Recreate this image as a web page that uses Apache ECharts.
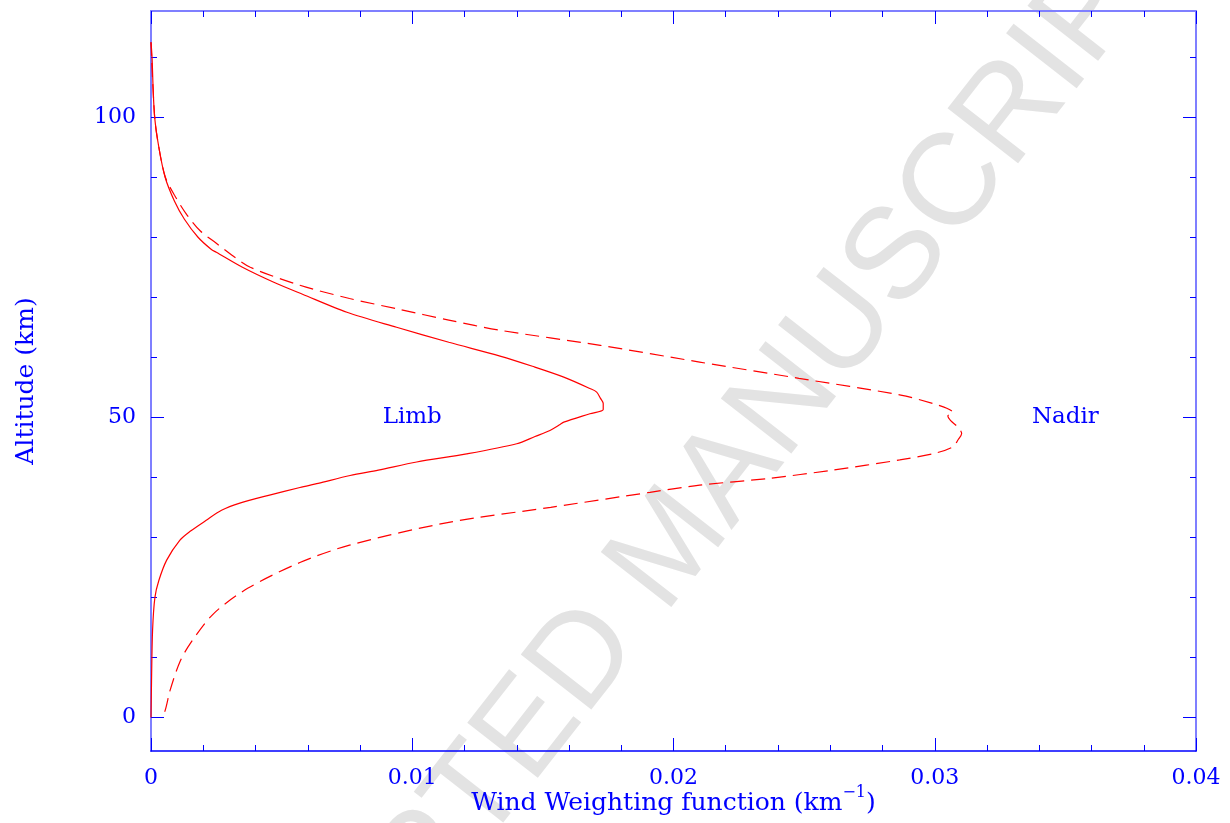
<!DOCTYPE html>
<html>
<head>
<meta charset="utf-8">
<script src="https://cdn.jsdelivr.net/npm/echarts@6/dist/echarts.min.js"></script>
<style>
  html, body { margin: 0; padding: 0; background: #ffffff; }
  #chart { width: 1230px; height: 823px; }
</style>
</head>
<body>
<div id="chart"></div>
<script>
// Limb viewing geometry: altitude (km) and wind weighting function (km^-1)
const limbAlt = [112.5, 110, 105, 100, 95, 90, 86, 83, 80, 78, 77.5, 75, 72.5, 70.5, 67.5, 65, 62.5,
  60.2, 58.5, 56.7, 54.8, 54.2, 53.2, 52.3, 51.3, 50.6, 49.2, 48.8, 47.8, 46.8, 45.6, 43.9, 42.55,
  41.2, 40.3, 39, 38.3, 37, 35.7, 34.5, 32.8, 31, 29.5, 26.2, 22.8, 20, 14.5, 6, 0];
const limbVal = [0, 0.00004, 0.00008, 0.00014, 0.0003, 0.00054, 0.0009, 0.00128, 0.0018, 0.0023, 0.0025,
  0.0035, 0.0047, 0.0058, 0.0075, 0.0094, 0.0114,
  0.01336, 0.0146, 0.0158, 0.0168, 0.01706, 0.0172, 0.01731, 0.01731, 0.0168, 0.0158, 0.01566, 0.01527,
  0.0147, 0.0140, 0.01208, 0.01017,
  0.0087, 0.00762, 0.0064, 0.0057, 0.0045, 0.0034, 0.0027, 0.0021, 0.0015, 0.0011, 0.0006, 0.0003,
  0.00015, 0.00006, 0.00002, 0];

// Nadir viewing geometry
const nadirAlt = [112.5, 100, 95, 90, 87, 83.7, 81, 79, 77, 75, 72, 69.8, 68, 66.2, 64.5, 62, 59.2,
  56.5, 53.7, 52.2, 51.5, 50.8, 50.2, 49.5, 48.3, 47.3, 46.3, 45.1, 44, 42.9, 41.2, 39.8, 38.7, 37.5,
  35, 32.5, 28.7, 25.8, 21.5, 17.3, 12.3, 9.2, 4.5, 1, 0.5];
const nadirVal = [0, 0.00014, 0.0003, 0.00055, 0.0009, 0.00138, 0.0019, 0.0025, 0.0031, 0.0038, 0.0057,
  0.0076, 0.0095, 0.0114, 0.01336, 0.0172, 0.0210,
  0.0248, 0.0287, 0.0300, 0.03046, 0.0307, 0.0305, 0.0306, 0.0309, 0.03103, 0.0309, 0.0307, 0.0300,
  0.02866, 0.0261, 0.0236, 0.0210, 0.0191,
  0.0153, 0.0114, 0.0076, 0.0057, 0.0037, 0.0024, 0.0015, 0.0011, 0.00073, 0.00053, 0.00042];

// Curve labels: [value, altitude, text]
const curveLabels = [[0.01, 50, 'Limb'], [0.035, 50, 'Nadir']];

// Axis ticks
const xMin = 0, xMax = 0.04, xStep = 0.01;
const yMin = -5.6, yMax = 117.7;
const yMajorTicks = [0, 50, 100];
const yMinorTicks = [10, 20, 30, 40, 60, 70, 80, 90, 110];

const BLUE = '#0000ff';
const FRAME = '#7f7fff';
const FONT = 'DejaVu Serif';

const pairs = (vals, alts) => vals.map((v, i) => [v, alts[i]]);

const chart = echarts.init(document.getElementById('chart'));

const tickLabelStyle = { color: BLUE, fontFamily: FONT, fontSize: 22 };

function yAxisDef(position, ticks, len, withLabels, lineShow) {
  return {
    type: 'value', position, min: yMin, max: yMax,
    axisLine: { show: lineShow, onZero: false, lineStyle: { color: FRAME, width: 2 } },
    axisTick: { show: true, inside: true, length: len, customValues: ticks, lineStyle: { color: BLUE, width: 1 } },
    axisLabel: withLabels
      ? Object.assign({ show: true, margin: 15, customValues: ticks }, tickLabelStyle)
      : { show: false },
    splitLine: { show: false }
  };
}

function xAxisDef(position, lineColor, lineWidth) {
  return {
    type: 'value', position, min: xMin, max: xMax, interval: xStep,
    axisLine: { onZero: false, lineStyle: { color: lineColor, width: lineWidth } },
    axisTick: { inside: true, length: 13, lineStyle: { color: BLUE, width: 1 } },
    minorTick: { show: true, splitNumber: 5, length: 6, lineStyle: { color: BLUE, width: 1 } },
    splitLine: { show: false }, minorSplitLine: { show: false }
  };
}

const curveStyle = { color: '#ff0000', width: 1.2 };

chart.setOption({
  animation: false,
  backgroundColor: '#ffffff',
  grid: { left: 151, right: 34, top: 11, bottom: 72, containLabel: false, outerBoundsMode: 'none' },
  graphic: [{
    type: 'text',
    x: 672, y: 548,
    rotation: 52 * Math.PI / 180,
    z: -10, silent: true,
    style: {
      text: 'ACCEPTED MANUSCRIPT',
      fontFamily: 'Liberation Sans',
      fontSize: 130,
      fill: '#e3e3e3',
      align: 'center',
      verticalAlign: 'middle'
    }
  }],
  xAxis: [
    Object.assign(xAxisDef('bottom', BLUE, 1.6), {
      axisLabel: Object.assign({
        margin: 16, showMinLabel: true, showMaxLabel: true,
        formatter: v => (v === 0 ? '0' : String(+v.toFixed(3)))
      }, tickLabelStyle),
      name: '{n|Wind Weighting function (km}{sup|\u22121}{n|)}',
      nameLocation: 'middle', nameGap: 34, nameMoveOverlap: false,
      nameTextStyle: {
        color: BLUE, fontFamily: FONT, fontSize: 25,
        rich: {
          n: { color: BLUE, fontFamily: FONT, fontSize: 25, lineHeight: 36 },
          sup: { color: BLUE, fontFamily: FONT, fontSize: 16, lineHeight: 18, verticalAlign: 'top' }
        }
      }
    }),
    Object.assign(xAxisDef('top', FRAME, 2), { axisLabel: { show: false } })
  ],
  yAxis: [
    Object.assign(yAxisDef('left', yMajorTicks, 13, true, true), {
      name: 'Altitude (km)', nameLocation: 'middle', nameRotate: 90, nameGap: 112, nameMoveOverlap: false,
      nameTextStyle: { color: BLUE, fontFamily: FONT, fontSize: 25 }
    }),
    yAxisDef('left', yMinorTicks, 6, false, false),
    yAxisDef('right', yMajorTicks, 13, false, true),
    yAxisDef('right', yMinorTicks, 6, false, false)
  ],
  series: [{
    name: 'Limb', type: 'line', xAxisIndex: 0, yAxisIndex: 0,
    data: pairs(limbVal, limbAlt),
    showSymbol: false, symbol: 'none', smooth: 0.3,
    lineStyle: curveStyle,
    emphasis: { disabled: true }
  }, {
    name: 'Nadir', type: 'line', xAxisIndex: 0, yAxisIndex: 0,
    data: pairs(nadirVal, nadirAlt),
    showSymbol: false, symbol: 'none', smooth: 0.3,
    lineStyle: Object.assign({ type: [14, 7] }, curveStyle),
    emphasis: { disabled: true }
  }, {
    type: 'scatter', xAxisIndex: 0, yAxisIndex: 0,
    data: curveLabels,
    symbolSize: 1, itemStyle: { color: 'rgba(0,0,0,0)', opacity: 1 },
    label: {
      show: true, position: 'inside',
      formatter: p => p.data[2],
      color: BLUE, fontFamily: FONT, fontSize: 23
    },
    emphasis: { disabled: true }, silent: true
  }]
});
</script>
</body>
</html>
